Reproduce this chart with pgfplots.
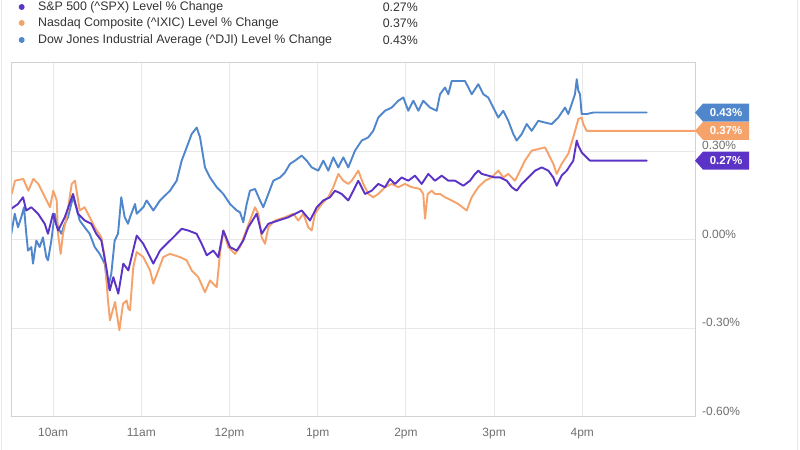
\documentclass[border=0pt]{standalone}
\usepackage{pgfplots}
\pgfplotsset{compat=1.18}
\usepackage{fontspec}
\setmainfont{Liberation Sans}
\definecolor{cPur}{HTML}{5B33C6}
\definecolor{cOra}{HTML}{F5A26B}
\definecolor{cBlu}{HTML}{5087CC}
\definecolor{cGrid}{HTML}{E8E8E8}
\definecolor{cAxis}{HTML}{D2D2D2}
\definecolor{cTick}{HTML}{707070}
\definecolor{cTxt}{HTML}{333333}
\begin{document}
\begin{tikzpicture}[x=1bp,y=1bp]
\useasboundingbox (-12,-33) rectangle (788,417);
\fill[white] (-12,-33) rectangle (788,417);
\draw[cGrid,line width=1bp] (-10.5,-33) -- (-10.5,417);
\draw[cGrid,line width=1bp] (785,-33) -- (785,417);
\begin{axis}[
  at={(0,0)}, anchor=south west, scale only axis,
  width=683bp, height=354bp,
  xmin=9.534, xmax=17.278, ymin=-0.6, ymax=0.6,
  xtick={10,11,12,13,14,15,16},
  xticklabels={10am,11am,12pm,1pm,2pm,3pm,4pm},
  ytick={-0.6,-0.3,0,0.3},
  yticklabels={-0.60\%,-0.30\%,0.00\%,0.30\%},
  yticklabel pos=right,
  major tick length=0pt,
  grid=major,
  major grid style={cGrid,line width=1bp},
  axis line style={cAxis,line width=1bp},
  tick style={draw=none},
  xticklabel style={font=\fontsize{12}{14}\selectfont, text=cTick, anchor=base, inner sep=0pt, yshift=-19.5bp},
  yticklabel style={font=\fontsize{12}{14}\selectfont, text=cTick, anchor=base west, inner sep=0pt, xshift=7bp, yshift=1.5bp},
  every axis plot/.append style={line width=1.9bp, line join=round, line cap=round},
]
\addplot[cBlu] table {
9.526 0.021
9.565 0.089
9.602 0.043
9.639 0.077
9.670 0.111
9.696 0.021
9.715 -0.036
9.753 -0.024
9.772 -0.080
9.810 -0.002
9.848 -0.024
9.885 0.009
9.923 -0.058
9.942 -0.069
9.980 -0.002
10.018 0.089
10.056 0.043
10.093 0.021
10.132 0.055
10.169 0.077
10.226 0.145
10.263 0.111
10.302 0.066
10.358 0.043
10.415 0.021
10.472 -0.024
10.528 -0.047
10.585 -0.080
10.622 -0.164
10.660 -0.114
10.698 -0.002
10.736 0.021
10.773 0.145
10.812 0.077
10.849 0.055
10.872 0.077
10.929 0.122
10.948 0.089
11.023 0.111
11.061 0.134
11.136 0.100
11.212 0.134
11.325 0.167
11.401 0.201
11.458 0.269
11.515 0.314
11.571 0.359
11.628 0.381
11.666 0.348
11.722 0.246
11.779 0.212
11.855 0.179
11.930 0.156
12.006 0.122
12.082 0.100
12.119 0.094
12.156 0.060
12.195 0.122
12.232 0.167
12.289 0.173
12.346 0.134
12.383 0.111
12.440 0.156
12.497 0.201
12.573 0.212
12.629 0.229
12.686 0.258
12.743 0.269
12.819 0.286
12.875 0.269
12.932 0.246
13.007 0.235
13.064 0.269
13.120 0.235
13.177 0.280
13.234 0.246
13.290 0.280
13.347 0.246
13.423 0.303
13.499 0.337
13.574 0.348
13.630 0.370
13.687 0.415
13.763 0.438
13.839 0.449
13.914 0.472
13.971 0.483
14.027 0.438
14.084 0.472
14.141 0.438
14.197 0.472
14.273 0.449
14.349 0.438
14.387 0.494
14.443 0.517
14.481 0.494
14.519 0.539
14.670 0.539
14.708 0.517
14.746 0.494
14.821 0.528
14.878 0.494
14.934 0.483
14.991 0.449
15.048 0.415
15.104 0.438
15.161 0.404
15.218 0.359
15.256 0.337
15.313 0.359
15.370 0.393
15.426 0.370
15.501 0.404
15.577 0.398
15.653 0.393
15.728 0.415
15.804 0.449
15.841 0.427
15.880 0.461
15.917 0.494
15.937 0.545
15.955 0.506
15.974 0.494
15.993 0.427
16.050 0.427
16.125 0.432
16.730 0.432
};
\addplot[cOra] table {
9.531 0.156
9.568 0.201
9.662 0.207
9.719 0.167
9.776 0.207
9.832 0.190
9.889 0.156
9.965 0.111
10.002 0.167
10.041 0.134
10.056 0.021
10.086 -0.047
10.112 0.021
10.154 0.077
10.211 0.190
10.248 0.201
10.302 0.100
10.358 0.111
10.415 0.077
10.472 0.043
10.547 0.009
10.585 -0.058
10.622 -0.205
10.645 -0.272
10.702 -0.210
10.751 -0.306
10.793 -0.216
10.834 -0.205
10.853 -0.233
10.872 -0.238
10.909 -0.092
10.948 -0.041
11.023 -0.058
11.099 -0.103
11.136 -0.148
11.193 -0.103
11.249 -0.058
11.325 -0.047
11.439 -0.058
11.515 -0.069
11.571 -0.103
11.646 -0.126
11.722 -0.177
11.779 -0.137
11.855 -0.160
11.892 -0.047
11.930 0.032
11.986 -0.024
12.062 -0.047
12.119 -0.024
12.176 0.021
12.232 0.066
12.289 0.111
12.327 0.089
12.365 0.009
12.403 -0.013
12.440 0.043
12.516 0.066
12.629 0.077
12.723 0.089
12.780 0.066
12.837 0.089
12.893 0.043
12.932 0.032
12.969 0.089
13.045 0.122
13.120 0.145
13.177 0.179
13.234 0.224
13.290 0.201
13.347 0.190
13.386 0.201
13.460 0.235
13.517 0.190
13.574 0.156
13.630 0.145
13.687 0.156
13.763 0.179
13.839 0.190
13.914 0.179
13.990 0.190
14.066 0.179
14.160 0.173
14.197 0.156
14.217 0.072
14.247 0.156
14.293 0.167
14.330 0.156
14.387 0.156
14.443 0.145
14.519 0.134
14.594 0.122
14.689 0.100
14.746 0.145
14.821 0.179
14.897 0.201
14.973 0.212
15.048 0.235
15.104 0.212
15.161 0.224
15.237 0.201
15.294 0.235
15.350 0.269
15.426 0.303
15.501 0.308
15.577 0.314
15.615 0.292
15.671 0.258
15.710 0.224
15.766 0.258
15.841 0.292
15.898 0.348
15.955 0.410
15.993 0.415
16.011 0.393
16.050 0.370
17.278 0.370
};
\addplot[cPur] table {
9.526 0.106
9.602 0.122
9.659 0.145
9.696 0.100
9.753 0.111
9.829 0.089
9.905 0.055
9.942 0.021
9.999 0.089
10.056 0.032
10.132 0.077
10.226 0.156
10.282 0.089
10.358 0.066
10.433 0.055
10.490 0.021
10.547 -0.002
10.603 -0.092
10.642 -0.171
10.683 -0.126
10.739 -0.182
10.796 -0.080
10.853 -0.103
10.948 0.015
11.023 -0.013
11.136 -0.080
11.212 -0.036
11.288 -0.013
11.363 0.009
11.458 0.038
11.533 0.032
11.628 0.021
11.685 -0.013
11.742 -0.052
11.816 -0.036
11.873 -0.058
11.930 0.032
12.006 -0.024
12.082 -0.036
12.156 -0.002
12.213 0.043
12.308 0.089
12.365 0.021
12.440 0.055
12.553 0.066
12.667 0.077
12.819 0.100
12.913 0.066
12.989 0.111
13.064 0.134
13.140 0.145
13.196 0.167
13.272 0.156
13.347 0.134
13.404 0.167
13.460 0.201
13.536 0.156
13.612 0.167
13.687 0.190
13.763 0.179
13.820 0.207
13.876 0.190
13.952 0.212
14.027 0.201
14.103 0.218
14.179 0.190
14.254 0.224
14.330 0.201
14.406 0.218
14.481 0.201
14.557 0.201
14.651 0.184
14.727 0.201
14.784 0.224
14.821 0.235
14.859 0.224
14.934 0.218
15.010 0.212
15.067 0.212
15.143 0.201
15.200 0.179
15.256 0.167
15.313 0.190
15.388 0.212
15.464 0.235
15.540 0.246
15.615 0.235
15.671 0.212
15.710 0.184
15.766 0.218
15.823 0.235
15.898 0.269
15.937 0.337
15.955 0.320
15.993 0.297
16.087 0.269
16.730 0.269
};
\coordinate (tB) at (axis cs:17.278,0.432);
\coordinate (tO) at (axis cs:17.278,0.370);
\coordinate (tP) at (axis cs:17.278,0.269);
\end{axis}
% badges
\foreach \c/\p/\v in {cBlu/tB/0.43, cOra/tO/0.37, cPur/tP/0.27}{
  \fill[\c] (\p) -- ++(8,9) -- ++(46,0) -- ++(0,-18) -- ++(-46,0) -- cycle;
  \node[text=white, font=\bfseries\fontsize{11.5}{13}\selectfont, inner sep=0pt] at ([xshift=31bp]\p) {\v\%};
}
% legend
\begin{scope}[font=\fontsize{12.4}{14}\selectfont]
\fill[cPur] (9.7,410) circle (3);
\fill[cOra] (9.7,394) circle (3);
\fill[cBlu] (9.7,377) circle (3);
\node[anchor=west, inner sep=0pt, text=cTxt] at (26,410) {S\&P 500 (\string^SPX) Level \% Change};
\node[anchor=west, inner sep=0pt, text=cTxt] at (26,394) {Nasdaq Composite (\string^IXIC) Level \% Change};
\node[anchor=west, inner sep=0pt, text=cTxt] at (26,377) {Dow Jones Industrial Average (\string^DJI) Level \% Change};
\node[anchor=east, inner sep=0pt, text=cTxt] at (406,410) {0.27\%};
\node[anchor=east, inner sep=0pt, text=cTxt] at (406,394) {0.37\%};
\node[anchor=east, inner sep=0pt, text=cTxt] at (406,377) {0.43\%};
\end{scope}
\end{tikzpicture}
\end{document}
